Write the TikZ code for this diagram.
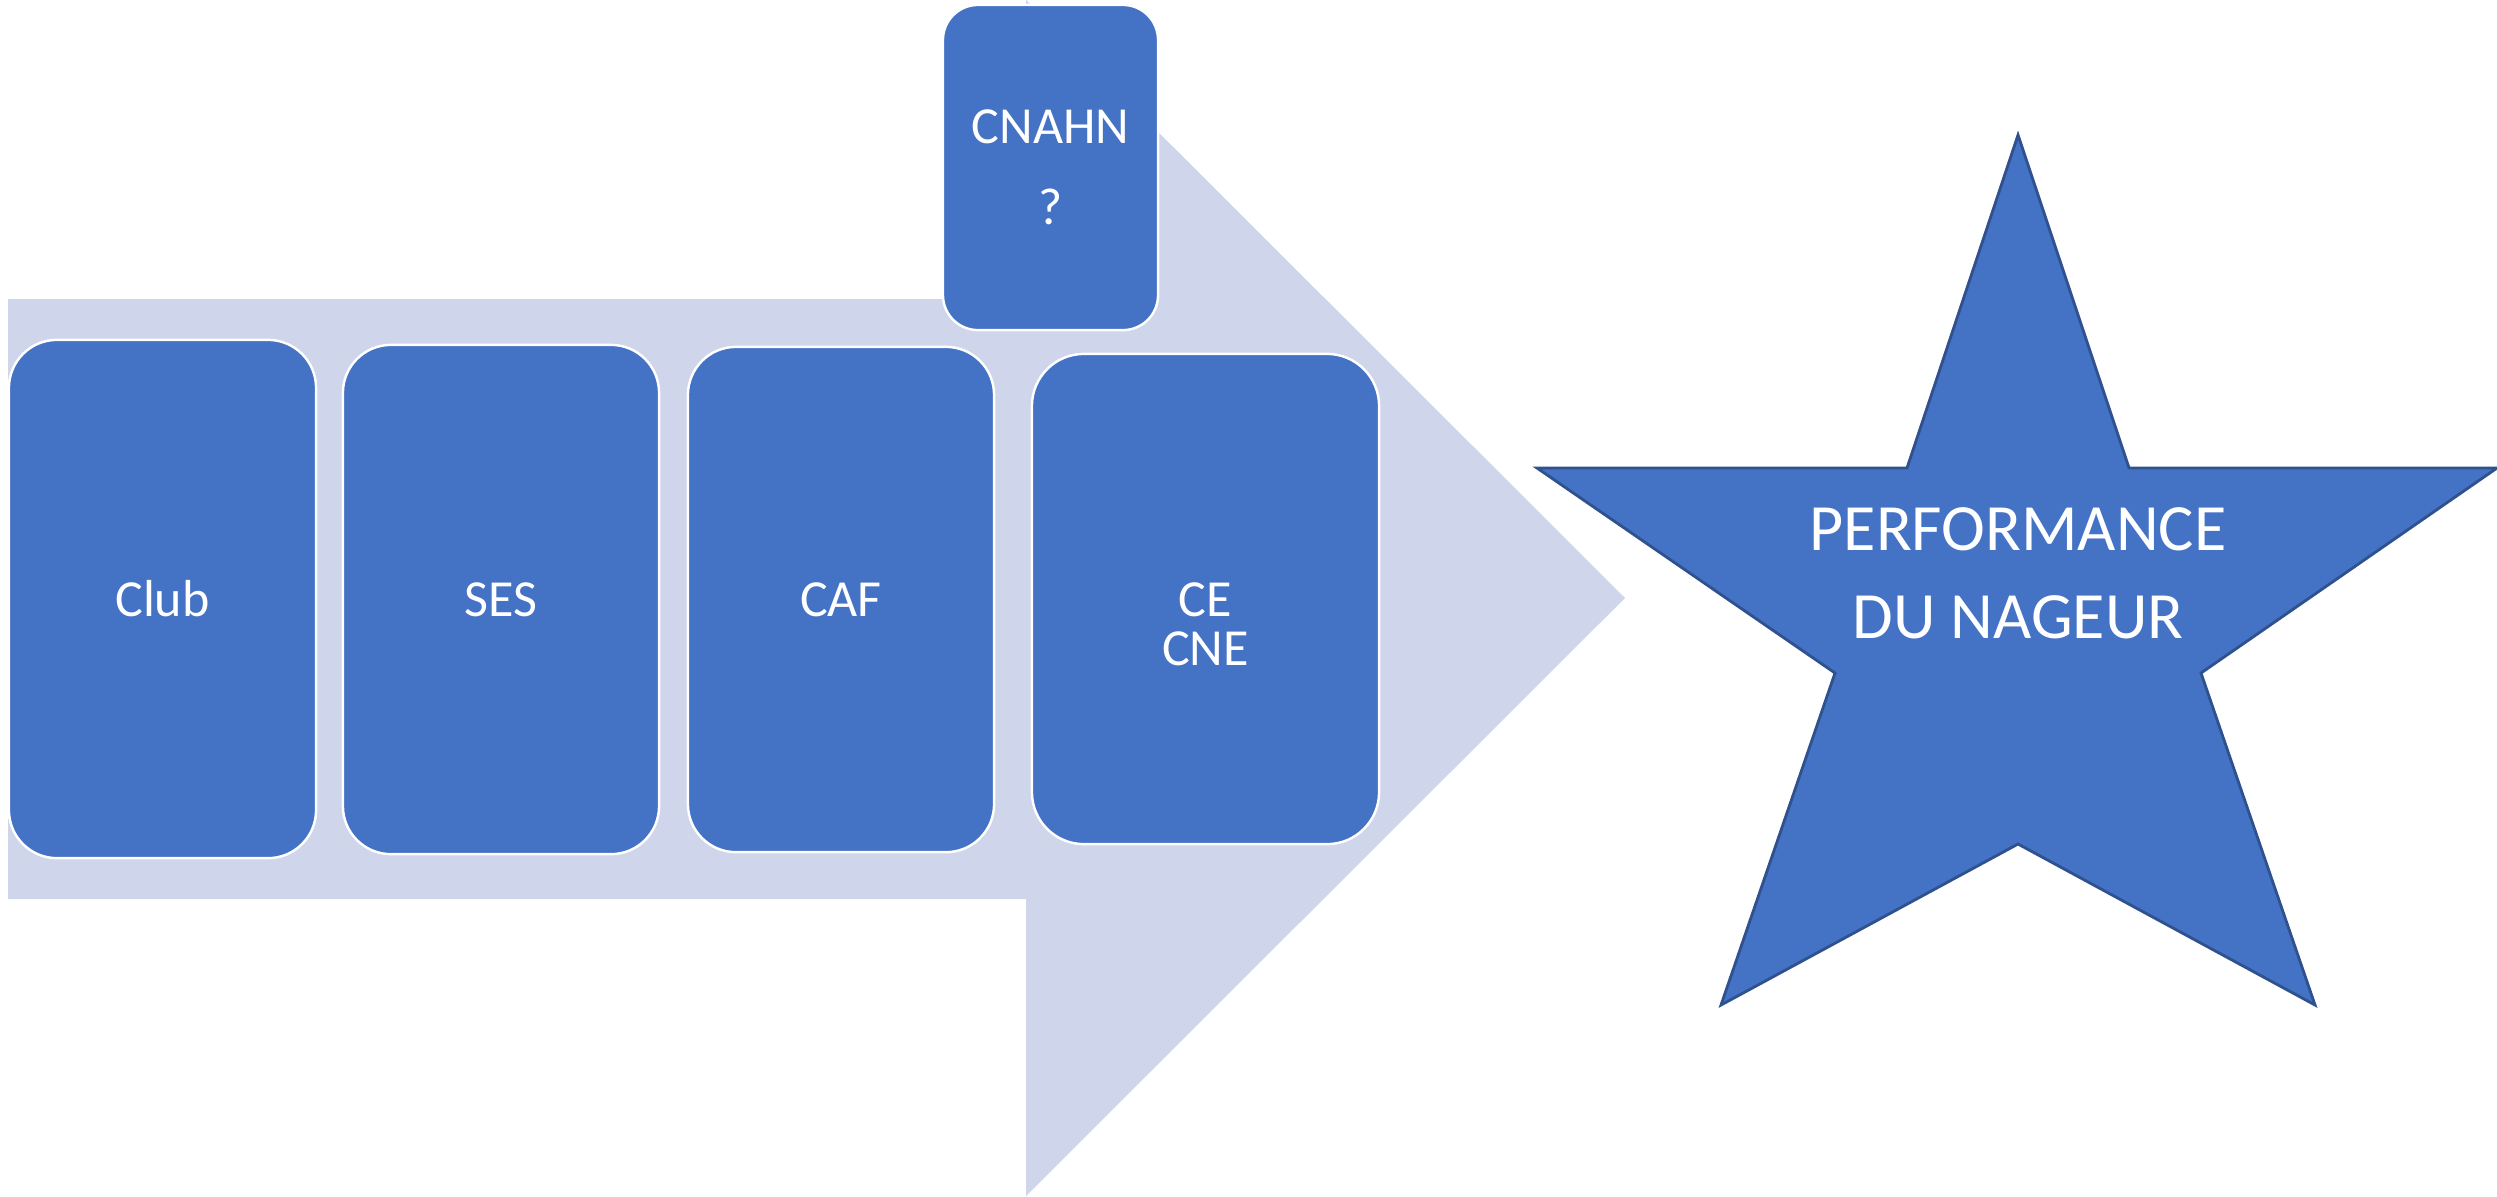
\documentclass[tikz,border=0pt]{standalone}
\usepackage{fontspec}
\setmainfont{Carlito}
\definecolor{arrowfill}{HTML}{CFD5EA}
\definecolor{boxblue}{HTML}{4472C4}
\definecolor{starline}{HTML}{2F528F}
\tikzset{
  stagebox/.style={draw=white, line width=0.7pt, fill=boxblue, text=white,
    rounded corners=0.48cm, inner sep=0pt, align=center,
    font=\fontsize{14.8}{23}\selectfont},
  starlabel/.style={text=white, inner sep=0pt, align=center,
    font=\fontsize{18.8}{25}\selectfont},
}
\begin{document}
\begin{tikzpicture}[x=0.01cm, y=-0.01cm]
\useasboundingbox (0,0) rectangle (2497,1196);
% big arrow
\fill[arrowfill] (8,299) -- (1026,299) -- (1026,0) -- (1625,598) -- (1026,1196) -- (1026,899) -- (8,899) -- cycle;
% stage boxes
\node[stagebox, minimum width=3.07cm, minimum height=5.18cm] (club) at (162.5,599) {Club};
\node[stagebox, minimum width=3.16cm, minimum height=5.09cm] (ses) at (501,599.5) {SES};
\node[stagebox, minimum width=3.06cm, minimum height=5.05cm] (caf) at (841,599.5) {CAF};
\node[stagebox, minimum width=3.47cm, minimum height=4.90cm, rounded corners=0.52cm,
      font=\fontsize{14.8}{14}\selectfont] (ce) at (1205.5,599)
      {\raisebox{-0.32cm}[\height][\depth]{\begin{tabular}{@{}c@{}}CE\\CNE\end{tabular}}};
\node[stagebox, minimum width=2.15cm, minimum height=3.25cm, rounded corners=0.35cm] (cnahn) at (1050.5,167.5) {CNAHN\\?};
% star
\filldraw[fill=boxblue, draw=starline, line width=0.8pt, line join=miter]
  (2018,135) -- (2129,468) -- (2497,468) -- (2201,673) -- (2315,1005) -- (2018,844)
  -- (1721,1005) -- (1835,673) -- (1537,468) -- (1907,468) -- cycle;
\node[starlabel] (perf) at (2018,573.5) {PERFORMANCE\\DU NAGEUR};
\end{tikzpicture}
\end{document}
